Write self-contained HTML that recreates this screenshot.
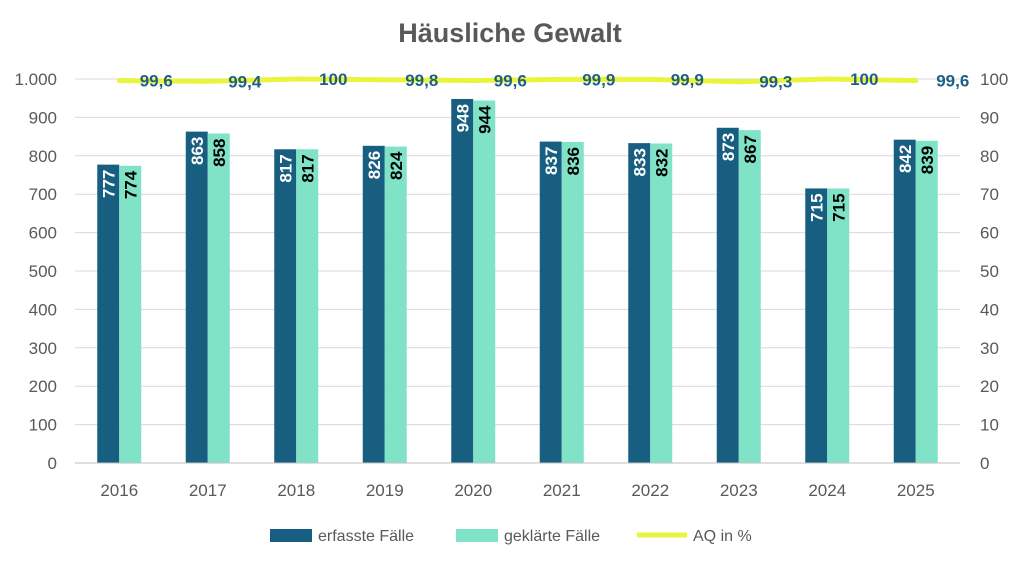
<!DOCTYPE html>
<html><head><meta charset="utf-8">
<style>
body{margin:0;background:#fff;font-family:"Liberation Sans",sans-serif;}
svg text{font-family:"Liberation Sans",sans-serif;}
</style></head>
<body>
<svg id="c" width="1024" height="563">
<text x="510" y="42" text-anchor="middle" font-size="27" font-weight="bold" fill="#595959">Häusliche Gewalt</text>
<g id="grid"></g><g id="bars"></g><g id="line"></g><g id="axes"></g>
<g>
<rect x="270" y="529" width="42" height="13" fill="#175e80"/>
<text x="318" y="541" font-size="16" fill="#595959">erfasste Fälle</text>
<rect x="456" y="529" width="42" height="13" fill="#80e3c7"/>
<text x="504" y="541" font-size="16" fill="#595959">geklärte Fälle</text>
<line x1="637" y1="535" x2="687" y2="535" stroke="#e8f53c" stroke-width="5"/>
<text x="693" y="541" font-size="16" fill="#595959">AQ in %</text>
</g>
</svg>
<script>
const categories=["2016","2017","2018","2019","2020","2021","2022","2023","2024","2025"];
const erfasst=[777,863,817,826,948,837,833,873,715,842];
const geklaert=[774,858,817,824,944,836,832,867,715,839];
const aq=[99.6,99.4,100,99.8,99.6,99.9,99.9,99.3,100,99.6];
const leftTicks=[0,100,200,300,400,500,600,700,800,900,1000];
const rightTicks=[0,10,20,30,40,50,60,70,80,90,100];
const NS="http://www.w3.org/2000/svg";
const x0=75,x1=960,yb=463,yt=79;
const step=(x1-x0)/categories.length;
const xc=i=>x0+step*(i+0.5);
const yL=v=>yb-(v/1000)*(yb-yt);
const yR=v=>yb-(v/100)*(yb-yt);
function mk(tag,attrs,parent){const e=document.createElementNS(NS,tag);for(const k in attrs)e.setAttribute(k,attrs[k]);document.getElementById(parent).appendChild(e);return e;}
leftTicks.forEach((t,i)=>{
 const g=mk('line',{x1:x0,x2:x1,y1:yL(t),y2:yL(t),stroke:'#d9d9d9','stroke-width':1},'grid');
 
 
 const l=mk('text',{x:57,y:yL(t)+6,'text-anchor':'end','font-size':17,fill:'#595959'},'axes');
 l.textContent=t===1000?'1.000':String(t);
 
 
 const r=mk('text',{x:980,y:yR(rightTicks[i])+6,'font-size':17,fill:'#595959'},'axes');
 r.textContent=String(rightTicks[i]);
 
 
});
const bw=22;
categories.forEach((c,i)=>{
 const cx=xc(i);
 const b1=mk('rect',{x:cx-bw,y:yL(erfasst[i]),width:bw,height:yb-yL(erfasst[i]),fill:'#175e80'},'bars');
 
 
 const b2=mk('rect',{x:cx,y:yL(geklaert[i]),width:bw,height:yb-yL(geklaert[i]),fill:'#80e3c7'},'bars');
 
 
 const t1=mk('text',{x:0,y:0,'font-size':17,'font-weight':'bold',fill:'#fff','text-anchor':'end',transform:`translate(${cx-bw/2+6},${yL(erfasst[i])+5}) rotate(-90)`},'bars');
 t1.textContent=erfasst[i];
 
 
 const t2=mk('text',{x:0,y:0,'font-size':17,'font-weight':'bold',fill:'#000','text-anchor':'end',transform:`translate(${cx+bw/2+6},${yL(geklaert[i])+5}) rotate(-90)`},'bars');
 t2.textContent=geklaert[i];
 
 
 const xl=mk('text',{x:cx,y:496,'text-anchor':'middle','font-size':17,fill:'#595959'},'axes');
 xl.textContent=c;
 
 
});
const ax=mk('line',{x1:x0,x2:x1,y1:yb,y2:yb,stroke:'#bfbfbf','stroke-width':1},'axes');


const pl=mk('polyline',{points:aq.map((v,i)=>xc(i)+','+yR(v)).join(' '),fill:'none',stroke:'#e8f53c','stroke-width':5,'stroke-linecap':'round'},'line');


aq.forEach((v,i)=>{
 const t=mk('text',{x:xc(i)+37,y:yR(v)+6,'text-anchor':'middle','font-size':17,'font-weight':'bold',fill:'#1f5f85'},'line');
 t.textContent=String(v).replace('.',',');
 
 
});
</script>
</body></html>
